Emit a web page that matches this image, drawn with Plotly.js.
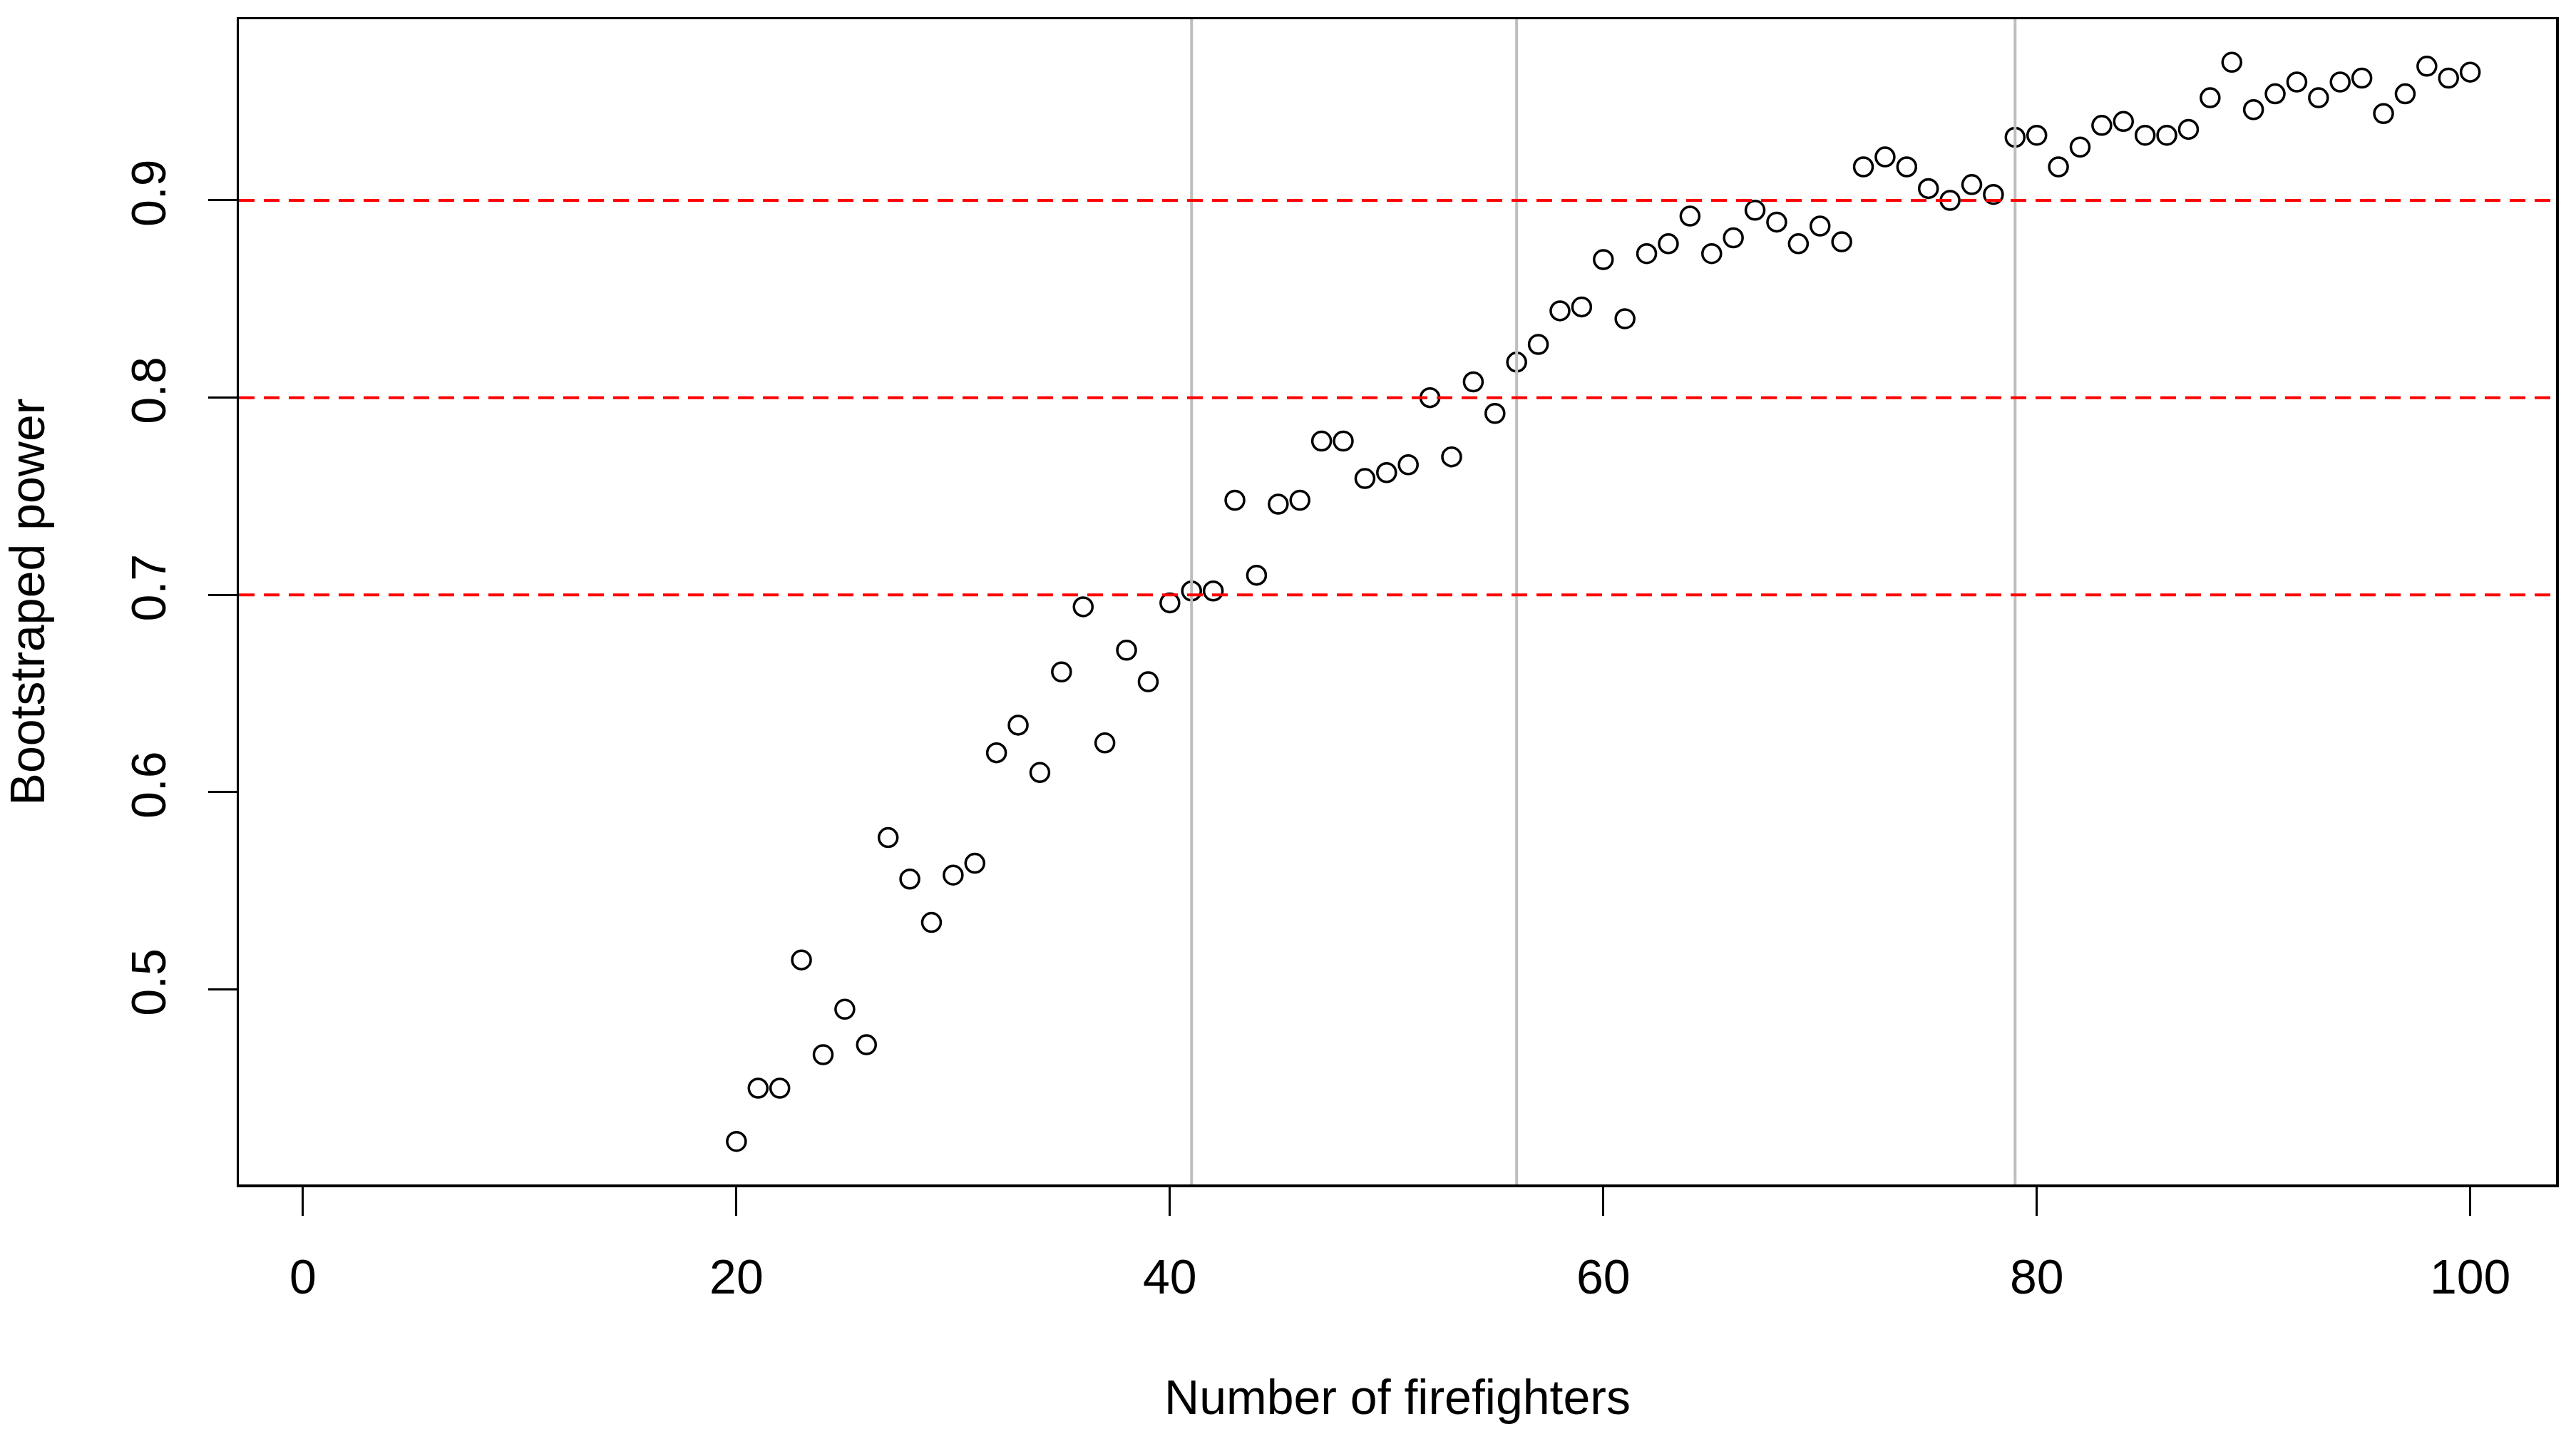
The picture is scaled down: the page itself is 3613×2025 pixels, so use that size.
<!DOCTYPE html>
<html>
<head>
<meta charset="utf-8">
<script src="https://cdn.plot.ly/plotly-3.0.1.min.js"></script>
<style>html,body{margin:0;padding:0;background:#fff;}#chart{width:3613px;height:2025px;}</style>
</head>
<body>
<div id="chart"></div>
<script>
// Number of firefighters
const firefighters = [20,21,22,23,24,25,26,27,28,29,30,31,32,33,34,35,36,37,38,39,40,
  41,42,43,44,45,46,47,48,49,50,51,52,53,54,55,56,57,58,59,60,
  61,62,63,64,65,66,67,68,69,70,71,72,73,74,75,76,77,78,79,80,
  81,82,83,84,85,86,87,88,89,90,91,92,93,94,95,96,97,98,99,100];
// Bootstraped power
const power = [0.423,0.450,0.450,0.515,0.467,0.490,0.472,0.577,0.556,0.534,0.558,0.564,0.620,0.634,0.610,0.661,0.694,0.625,0.672,0.656,0.696,
  0.702,0.702,0.748,0.710,0.746,0.748,0.778,0.778,0.759,0.762,0.766,0.800,0.770,0.808,0.792,0.818,0.827,0.844,0.846,0.870,
  0.840,0.873,0.878,0.892,0.873,0.881,0.895,0.889,0.878,0.887,0.879,0.917,0.922,0.917,0.906,0.900,0.908,0.903,0.932,0.933,
  0.917,0.927,0.938,0.940,0.933,0.933,0.936,0.952,0.970,0.946,0.954,0.960,0.952,0.960,0.962,0.944,0.954,0.968,0.962,0.965];
// Reference lines
const powerThresholds = [0.7, 0.8, 0.9];
const firefighterMarks = [41, 56, 79];
// Tick labels
const xTicks = [0, 20, 40, 60, 80, 100];
const xTickLabels = ["0", "20", "40", "60", "80", "100"];
const yTicks = [0.5, 0.6, 0.7, 0.8, 0.9];
const yTickLabels = ["0.5", "0.6", "0.7", "0.8", "0.9"];

const FONT = "Liberation Sans, Arial, sans-serif";

const trace = {
  x: firefighters,
  y: power,
  type: 'scatter',
  mode: 'markers',
  marker: { symbol: 'circle-open', size: 26, color: '#000', line: { width: 3.5, color: '#000' } },
  hoverinfo: 'x+y'
};

const shapes = [];
firefighterMarks.forEach(v => shapes.push({
  type: 'line', xref: 'x', yref: 'paper', x0: v, x1: v, y0: 0, y1: 1,
  line: { color: '#BEBEBE', width: 4 }, layer: 'above'
}));
powerThresholds.forEach(h => shapes.push({
  type: 'line', xref: 'paper', yref: 'y', x0: 0, x1: 1, y0: h, y1: h,
  line: { color: '#FF0000', width: 4, dash: '22px,13px' }, layer: 'above'
}));

const layout = {
  width: 3613, height: 2025,
  paper_bgcolor: '#fff', plot_bgcolor: '#fff',
  margin: { l: 335, r: 28, t: 27, b: 364, pad: 0 },
  showlegend: false,
  font: { family: FONT, size: 68, color: '#000' },
  xaxis: {
    range: [-2.96, 103.96], autorange: false,
    tickmode: 'array', tickvals: xTicks, ticktext: xTickLabels,
    ticks: 'outside', ticklen: 40, tickwidth: 3, tickcolor: '#000',
    ticklabelstandoff: 28,
    showline: true, mirror: true, linecolor: '#000', linewidth: 3.5,
    showgrid: false, zeroline: false, automargin: false,
    tickfont: { family: FONT, size: 68, color: '#000' },
    title: { text: 'Number of firefighters', font: { family: FONT, size: 68, color: '#000' }, standoff: 109 }
  },
  yaxis: {
    range: [0.4012, 0.9918], autorange: false,
    tickmode: 'array', tickvals: yTicks, ticktext: yTickLabels,
    tickangle: -90,
    ticks: 'outside', ticklen: 40, tickwidth: 3, tickcolor: '#000',
    ticklabelstandoff: 32,
    showline: true, mirror: true, linecolor: '#000', linewidth: 3.5,
    showgrid: false, zeroline: false, automargin: false,
    tickfont: { family: FONT, size: 68, color: '#000' },
    title: { text: 'Bootstraped power', font: { family: FONT, size: 68, color: '#000' }, standoff: 123 }
  },
  shapes: shapes
};

Plotly.newPlot('chart', [trace], layout, { displayModeBar: false, staticPlot: true });
</script>
</body>
</html>
